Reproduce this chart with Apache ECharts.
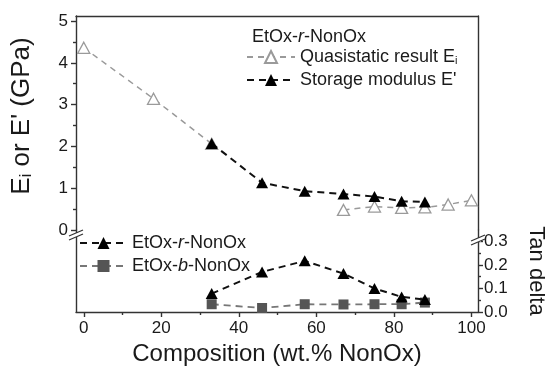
<!DOCTYPE html>
<html><head><meta charset="utf-8">
<script src="https://cdn.jsdelivr.net/npm/echarts@6/dist/echarts.min.js"></script>
<style>html,body{margin:0;padding:0;background:#fff}#c{width:545px;height:368px}</style>
</head><body><div id="c"></div>
<script>
// ---- data ----
// Upper panel: modulus (GPa)
const quasiX = [0, 18, 33, '-', 67, 75, 82, 88, 94, 100];
const quasiY = [4.36, 3.14, 2.06, '-', 0.48, 0.56, 0.53, 0.54, 0.61, 0.71];
const storageX = [33, 46, 57, 67, 75, 82, 88];
const storageY = [2.07, 1.13, 0.93, 0.86, 0.80, 0.69, 0.67];
// Lower panel: tan delta
const tanX = [33, 46, 57, 67, 75, 82, 88];
const tanRandom = [0.078, 0.17, 0.217, 0.163, 0.10, 0.064, 0.053];
const tanBlock = [0.033, 0.017, 0.033, 0.032, 0.033, 0.033, 0.04];
// ticks
const xTicks = [0, 20, 40, 60, 80, 100];
const xMinorTicks = [10, 30, 50, 70, 90];
const yTicks = [0, 1, 2, 3, 4, 5];
const yMinorTicks = [0.5, 1.5, 2.5, 3.5, 4.5];
const tanTicks = [0, 0.1, 0.2, 0.3];
const tanMinorTicks = [0.05, 0.15, 0.25];

const FONT = 'Liberation Sans, Arial, Helvetica, sans-serif';
const TXT = '#1a1a1a';
const FRAME = {color: '#333', width: 1.4};
const GL = 76, GR = 67, GT = 16, GMID = 230, GB = 56;
const zip = (a, b) => a.map((v, i) => [v, b[i]]);

const rich = {
  i: {fontStyle: 'italic', fontSize: 18, fontFamily: FONT, color: TXT},
  s: {fontSize: 11, fontFamily: FONT, color: TXT, verticalAlign: 'bottom', lineHeight: 11}
};
const fmt = n => n.replace('-r-', '-{i|r}-').replace('-b-', '-{i|b}-').replace('E_i', 'E{s|i}');

const chart = echarts.init(document.getElementById('c'), null, {renderer: 'canvas'});
const frameOnly = extra => Object.assign({
  type: 'value', axisLine: {show: true, onZero: false, lineStyle: FRAME},
  axisTick: {show: false}, axisLabel: {show: false}, splitLine: {show: false}
}, extra);
const minorAxis = extra => Object.assign({
  type: 'value', axisLine: {show: false, onZero: false},
  axisTick: {show: true, length: 3, lineStyle: FRAME},
  axisLabel: {show: false}, splitLine: {show: false}
}, extra);

chart.setOption({
  animation: false,
  backgroundColor: '#fff',
  textStyle: {fontFamily: FONT, color: TXT},
  title: {
    text: fmt('EtOx-r-NonOx'), left: 247, top: 23,
    textStyle: {fontSize: 18, fontWeight: 'normal', color: TXT, fontFamily: FONT, rich: rich}
  },
  grid: [
    {left: GL, right: GR, top: GT, height: GMID - GT, outerBoundsMode: 'none'},
    {left: GL, right: GR, top: GMID, bottom: GB, outerBoundsMode: 'none'}
  ],
  legend: [
    {orient: 'vertical', left: 246, top: 48, itemWidth: 48, itemHeight: 15, itemGap: 5, padding: 0,
     data: ['Quasistatic result E_i', 'Storage modulus E\''],
     formatter: fmt, textStyle: {fontSize: 18, color: TXT, fontFamily: FONT, rich: rich}},
    {orient: 'vertical', left: 79, top: 234, itemWidth: 47, itemHeight: 15, itemGap: 5, padding: 0,
     data: ['EtOx-r-NonOx', 'EtOx-b-NonOx'],
     formatter: fmt, textStyle: {fontSize: 18, color: TXT, fontFamily: FONT, rich: rich}}
  ],
  xAxis: [
    frameOnly({gridIndex: 0, position: 'top', min: -2, max: 101.7}),
    {type: 'value', gridIndex: 1, position: 'bottom', min: -2, max: 101.7,
     axisLine: {show: true, onZero: false, lineStyle: FRAME},
     axisTick: {show: true, length: 5, customValues: xTicks, lineStyle: FRAME},
     axisLabel: {customValues: xTicks, fontSize: 17, color: TXT, margin: 8},
     splitLine: {show: false},
     name: 'Composition (wt.% NonOx)', nameLocation: 'middle', nameGap: 30,
     nameTextStyle: {fontSize: 24, color: TXT}},
    minorAxis({gridIndex: 1, position: 'bottom', min: -2, max: 101.7,
     axisTick: {show: true, length: 3, customValues: xMinorTicks, lineStyle: FRAME}})
  ],
  yAxis: [
    {type: 'value', gridIndex: 0, position: 'left', min: 0, max: 5.12,
     axisLine: {show: true, onZero: false, lineStyle: FRAME},
     axisTick: {show: true, length: 5, customValues: yTicks, lineStyle: FRAME},
     axisLabel: {customValues: yTicks, fontSize: 17, color: TXT, margin: 8},
     splitLine: {show: false},
     name: '{a|E}{s|i}{a| or E\' (GPa)}', nameLocation: 'middle', nameGap: 41,
     nameTextStyle: {padding: [0, 0, 0, 14], rich: {
       a: {fontSize: 26, fontFamily: FONT, color: TXT},
       s: {fontSize: 16, fontFamily: FONT, color: TXT, verticalAlign: 'bottom', lineHeight: 15}
     }}},
    minorAxis({gridIndex: 0, position: 'left', min: 0, max: 5.12,
     axisTick: {show: true, length: 3, customValues: yMinorTicks, lineStyle: FRAME}}),
    frameOnly({gridIndex: 0, position: 'right', min: 0, max: 5.12}),
    frameOnly({gridIndex: 1, position: 'left', min: 0, max: 1}),
    {type: 'value', gridIndex: 1, position: 'right', min: 0, max: 0.348,
     axisLine: {show: true, onZero: false, lineStyle: FRAME},
     axisTick: {show: true, length: 5, customValues: tanTicks, lineStyle: FRAME},
     axisLabel: {customValues: tanTicks, fontSize: 17, color: TXT, margin: 6,
                 formatter: v => v.toFixed(1)},
     splitLine: {show: false},
     name: 'Tan delta', nameLocation: 'middle', nameRotate: -90, nameGap: 47,
     nameTextStyle: {fontSize: 22, color: TXT}},
    minorAxis({gridIndex: 1, position: 'right', min: 0, max: 0.348,
     axisTick: {show: true, length: 3, customValues: tanMinorTicks, lineStyle: FRAME}})
  ],
  series: [
    {name: 'Quasistatic result E_i', type: 'line', xAxisIndex: 0, yAxisIndex: 0,
     data: zip(quasiX, quasiY), symbol: 'triangle', symbolSize: [12, 11],
     itemStyle: {color: '#fff', borderColor: '#9a9a9a', borderWidth: 1.3},
     lineStyle: {color: '#9a9a9a', width: 1.5, type: [6, 5]}, z: 2},
    {name: 'Storage modulus E\'', type: 'line', xAxisIndex: 0, yAxisIndex: 0,
     data: zip(storageX, storageY), symbol: 'triangle', symbolSize: [12, 11],
     itemStyle: {color: '#000'},
     lineStyle: {color: '#111', width: 2, type: [7, 5]}, z: 3},
    {name: 'EtOx-r-NonOx', type: 'line', xAxisIndex: 1, yAxisIndex: 4,
     data: zip(tanX, tanRandom), symbol: 'triangle', symbolSize: [12, 11],
     itemStyle: {color: '#000'},
     lineStyle: {color: '#111', width: 2, type: [7, 5]}, z: 3},
    {name: 'EtOx-b-NonOx', type: 'line', xAxisIndex: 1, yAxisIndex: 4,
     data: zip(tanX, tanBlock), symbol: 'rect', symbolSize: 10,
     itemStyle: {color: '#555'},
     lineStyle: {color: '#777', width: 1.8, type: [7, 5]}, z: 2}
  ]
});

// axis-break decorations on the frame
function breakMark(cx, cy) {
  return [
    {type: 'rect', shape: {x: cx - 3, y: cy - 2, width: 6, height: 4}, style: {fill: '#fff'}, z: 100},
    {type: 'line', shape: {x1: cx - 7, y1: cy + 1, x2: cx + 7, y2: cy - 5}, style: {stroke: '#333', lineWidth: 1.3}, z: 101},
    {type: 'line', shape: {x1: cx - 7, y1: cy + 5, x2: cx + 7, y2: cy - 1}, style: {stroke: '#333', lineWidth: 1.3}, z: 101}
  ];
}
const W = 545;
chart.setOption({graphic: breakMark(GL, GMID + 5).concat(breakMark(W - GR, GMID + 10))});
</script>
</body></html>
